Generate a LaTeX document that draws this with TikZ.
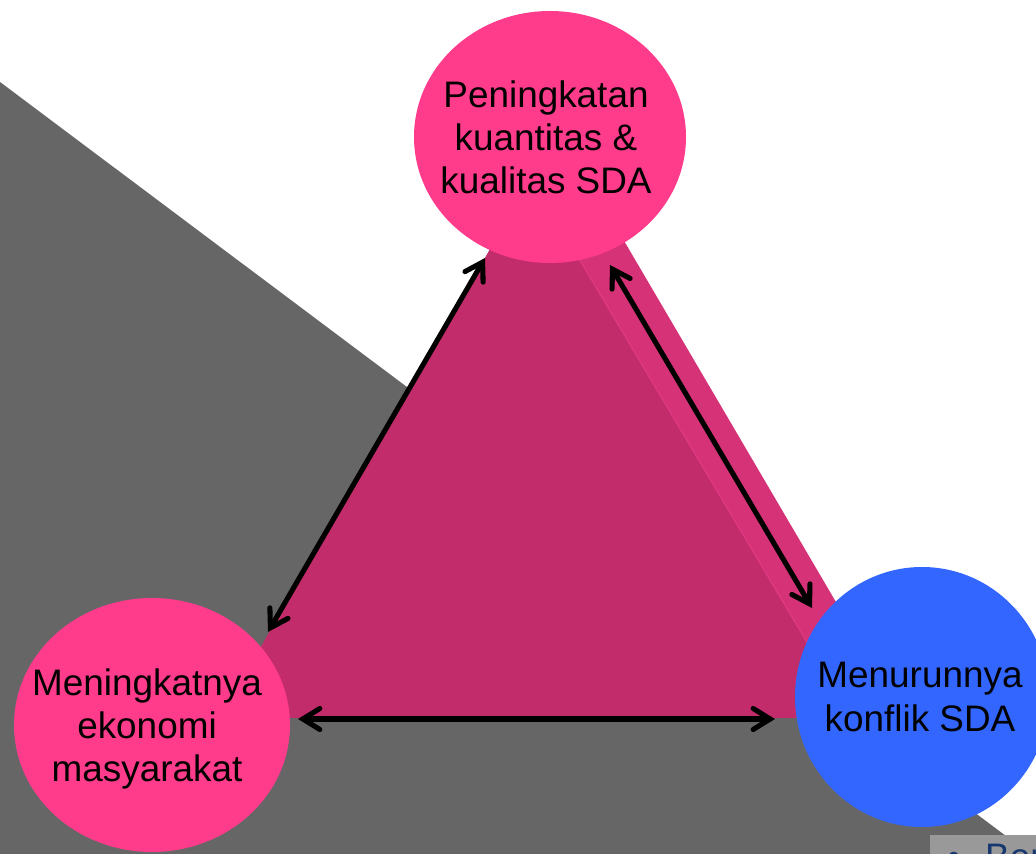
\documentclass[tikz,border=0pt]{standalone}
\usepackage{fontspec}
\setmainfont{Liberation Sans}
\usetikzlibrary{arrows.meta,shapes.geometric}
\definecolor{bggray}{HTML}{666666}
\definecolor{boxgray}{HTML}{999999}
\definecolor{facedark}{HTML}{C32C6B}
\definecolor{facelight}{HTML}{D63278}
\definecolor{edgehi}{HTML}{E23A84}
\definecolor{pinkc}{HTML}{FF3C8C}
\definecolor{bluec}{HTML}{3366FF}
\definecolor{navy}{HTML}{17376F}
\tikzset{
  lbl/.style={align=center, text=black, font=\fontsize{21pt}{24.5pt}\selectfont, inner sep=0pt},
  arr/.style={line width=2.9pt, line cap=round,
    {Straight Barb[length=0.34cm,width=0.42cm,line cap=round]}-{Straight Barb[length=0.34cm,width=0.42cm,line cap=round]}}
}
\begin{document}
\begin{tikzpicture}[x=0.02cm,y=-0.02cm]
\useasboundingbox (0,0) rectangle (1036,854);
\clip (0,0) rectangle (1036,854);
% background grey wedge
\fill[bggray] (0,82) -- (1030,854) -- (0,854) -- cycle;
% pyramid
\fill[facelight] (559,130) -- (904,718) -- (220,718) -- cycle;
\fill[facedark] (531,178) -- (852,718) -- (220,718) -- cycle;
\draw[edgehi, line width=0.6pt] (531,178) -- (852,718);
% circles
\fill[pinkc] (550,137) ellipse [x radius=136, y radius=126];
\fill[pinkc] (152,725) ellipse [x radius=138, y radius=127];
\fill[bluec] (922,697) ellipse [x radius=127, y radius=130];
\node[lbl] (top) at (546,137) {Peningkatan\\kuantitas \&\\kualitas SDA};
\node[lbl] (left) at (147,729) {Meningkatnya\\ekonomi\\masyarakat};
\node[lbl] (right) at (920,697) {Menurunnya\\konflik SDA};
% arrow end points
\coordinate (a1) at (485,258);
\coordinate (a2) at (268,632);
\coordinate (b1) at (610,265);
\coordinate (b2) at (812,608);
\coordinate (c1) at (298,719);
\coordinate (c2) at (775,719);
\draw[arr] (a1) -- (a2);
\draw[arr] (b1) -- (b2);
\draw[arr] (c1) -- (c2);
% bottom-right box
\fill[boxgray] (930,835) rectangle (1040,860);
\node[anchor=base west, text=navy, font=\fontsize{21pt}{24.5pt}\selectfont, inner sep=0pt] (ber) at (947,870) {•\hspace{0.5cm}Ber};
\end{tikzpicture}
\end{document}
